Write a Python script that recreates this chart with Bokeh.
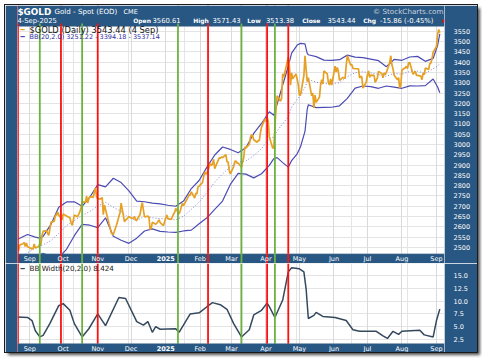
import pandas as pd
from bokeh.plotting import figure
from bokeh.models import (Range1d, FixedTicker, Span, Label, BoxAnnotation, Grid,
                          NumeralTickFormatter)
from bokeh.layouts import column
from bokeh.embed import file_html
from bokeh.resources import INLINE

# ---------------- data ----------------
START = pd.Timestamp("2024-08-21")
HOLIDAYS = ["2024-09-02", "2024-11-28", "2024-12-25", "2025-01-01",
            "2025-01-20", "2025-02-17", "2025-04-18"]

gold_close = [
    # Aug 2024
    2512, 2485, 2512, 2518, 2524, 2504, 2521, 2503,
    # Sep
    2493, 2495, 2517, 2497, 2505, 2516, 2512, 2558, 2578, 2582, 2569, 2559, 2587, 2622,
    2628, 2657, 2657, 2672, 2658, 2634,
    # Oct
    2663, 2659, 2656, 2653, 2644, 2622, 2608, 2630, 2657, 2649, 2662, 2674, 2693, 2721,
    2720, 2749, 2716, 2736, 2747, 2743, 2774, 2788, 2744,
    # Nov
    2736, 2736, 2743, 2659, 2706, 2684, 2618, 2598, 2573, 2565, 2563, 2611, 2631, 2650,
    2669, 2715, 2625, 2633, 2637, 2650,
    # Dec
    2640, 2643, 2650, 2632, 2633, 2660, 2694, 2718, 2681, 2648, 2652, 2646, 2586, 2594,
    2622, 2613, 2617, 2634, 2621, 2606, 2624,
    # Jan 2025
    2658, 2640, 2636, 2648, 2662, 2670, 2689, 2663, 2677, 2697, 2714, 2703, 2743, 2755,
    2754, 2770, 2740, 2763, 2760, 2794, 2798,
    # Feb
    2815, 2842, 2867, 2856, 2861, 2907, 2898, 2905, 2928, 2883, 2935, 2933, 2939, 2936,
    2951, 2915, 2916, 2875, 2857,
    # Mar
    2893, 2918, 2920, 2910, 2910, 2889, 2917, 2934, 2988, 2984, 3001, 3034, 3048, 3044,
    3023, 3011, 3019, 3019, 3057, 3084, 3123,
    # Apr
    3113, 3133, 3113, 3037, 2983, 2982, 3083, 3175, 3237, 3210, 3225, 3343, 3327, 3424,
    3381, 3288, 3348, 3319, 3343, 3317, 3288,
    # May
    3239, 3241, 3334, 3431, 3366, 3306, 3325, 3236, 3250, 3177, 3240, 3205, 3230, 3289,
    3315, 3294, 3357, 3343, 3301, 3289, 3318, 3289,
    # Jun
    3380, 3352, 3374, 3353, 3311, 3326, 3323, 3322, 3385, 3432, 3385, 3388, 3370, 3369,
    3368, 3368, 3323, 3332, 3327, 3274, 3303,
    # Jul
    3338, 3357, 3326, 3337, 3336, 3302, 3313, 3324, 3355, 3344, 3324, 3347, 3339, 3350,
    3397, 3431, 3387, 3368, 3336, 3314, 3325, 3274, 3289,
    # Aug
    3362, 3373, 3380, 3369, 3397, 3398, 3341, 3348, 3356, 3336, 3336, 3332, 3315, 3347,
    3339, 3371, 3365, 3393, 3396, 3416, 3448,
    # Sep
    3476, 3533, 3559, 3543,
]

bb_dates = [
    "2024-08-21", "2024-08-23", "2024-08-30", "2024-09-06", "2024-09-10", "2024-09-13",
    "2024-09-20", "2024-09-27", "2024-10-04", "2024-10-11", "2024-10-18", "2024-10-25",
    "2024-11-01", "2024-11-08", "2024-11-15", "2024-11-22", "2024-11-29", "2024-12-06",
    "2024-12-13", "2024-12-20", "2024-12-27", "2025-01-03", "2025-01-10", "2025-01-17",
    "2025-01-24", "2025-01-31", "2025-02-07", "2025-02-14", "2025-02-21", "2025-02-28",
    "2025-03-07", "2025-03-14", "2025-03-21", "2025-03-28", "2025-04-04", "2025-04-08",
    "2025-04-11", "2025-04-16", "2025-04-21", "2025-04-24", "2025-04-29", "2025-05-02",
    "2025-05-06", "2025-05-08", "2025-05-09", "2025-05-16", "2025-05-23",
    "2025-05-30", "2025-06-06", "2025-06-13", "2025-06-20", "2025-06-27", "2025-07-04",
    "2025-07-11", "2025-07-18", "2025-07-25", "2025-08-01", "2025-08-08", "2025-08-15",
    "2025-08-22", "2025-08-29", "2025-09-02", "2025-09-04",
]
bb_upper = [
    2540, 2545, 2563, 2550, 2545, 2554, 2612, 2695, 2721, 2722, 2700, 2745,
    2805, 2794, 2836, 2815, 2775, 2725, 2722, 2715, 2712, 2705, 2700, 2725,
    2786, 2825, 2890, 2949, 2988, 2976, 2960, 2984, 3054, 3102, 3159, 3142,
    3196, 3289, 3380, 3444, 3483, 3491,
    3489, 3443, 3436, 3427, 3410,
    3409, 3412, 3434, 3424, 3422, 3415,
    3407, 3378, 3413, 3409, 3425, 3428,
    3404, 3418, 3481, 3537.14,
]
bb_middle = [
    2447, 2452, 2474, 2497, 2505, 2513, 2533, 2568, 2606, 2631, 2655, 2675,
    2701, 2719, 2695, 2675, 2645, 2629, 2653, 2644, 2640, 2638, 2634, 2651,
    2685, 2720, 2767, 2817, 2857, 2891, 2913, 2920, 2946, 2980, 3029, 3037,
    3066, 3101, 3135, 3183, 3219, 3240,
    3277, 3307, 3315, 3303, 3295,
    3295, 3300, 3329, 3349, 3353, 3348,
    3340, 3331, 3346, 3341, 3355, 3356,
    3345, 3368, 3380, 3394.18,
]
bb_lower = [
    2365, 2367, 2390, 2445, 2466, 2472, 2457, 2451, 2491, 2557, 2612, 2608,
    2596, 2644, 2554, 2535, 2520, 2545, 2580, 2590, 2578, 2575, 2573, 2580,
    2584, 2615, 2644, 2685, 2725, 2806, 2860, 2856, 2838, 2858, 2899, 2931,
    2936, 2912, 2890, 2922, 2955, 2989,
    3064, 3171, 3193, 3179, 3180,
    3181, 3188, 3224, 3274, 3284, 3281,
    3273, 3284, 3279, 3273, 3285, 3284,
    3286, 3318, 3279, 3251.22,
]

bbw_dates = [
    "2024-08-21", "2024-08-30", "2024-09-03", "2024-09-06", "2024-09-10", "2024-09-13",
    "2024-09-19", "2024-09-27", "2024-10-01", "2024-10-07", "2024-10-11", "2024-10-18",
    "2024-10-24", "2024-11-01", "2024-11-08", "2024-11-20", "2024-11-26", "2024-12-06",
    "2024-12-12", "2024-12-16", "2024-12-20", "2024-12-23", "2024-12-27", "2025-01-10",
    "2025-01-13", "2025-01-23", "2025-01-31", "2025-02-07", "2025-02-12", "2025-02-19",
    "2025-02-25", "2025-03-03", "2025-03-10", "2025-03-17", "2025-03-21", "2025-03-28",
    "2025-04-02", "2025-04-04", "2025-04-09", "2025-04-16", "2025-04-21", "2025-04-24",
    "2025-05-01", "2025-05-05", "2025-05-07", "2025-05-09", "2025-05-14", "2025-05-16",
    "2025-05-22", "2025-06-02", "2025-06-12", "2025-06-18", "2025-06-24", "2025-07-09",
    "2025-07-15", "2025-07-19", "2025-07-24", "2025-07-29", "2025-08-01", "2025-08-17",
    "2025-08-21", "2025-08-29", "2025-09-01", "2025-09-04",
]
bbw_values = [
    6.9, 6.8, 6.2, 4.2, 3.0, 3.3, 5.6, 9.1, 9.5, 8.2, 5.6, 3.0,
    4.6, 7.5, 5.2, 10.7, 10.5, 6.0, 5.3, 6.0, 3.9, 5.0, 4.5, 4.6,
    3.9, 7.5, 7.7, 8.9, 9.7, 9.3, 8.4, 5.6, 3.0, 4.4, 7.3, 8.2,
    9.6, 8.9, 6.8, 10.2, 15.7, 16.5, 16.3, 15.7, 12.4, 6.6, 7.2, 7.8,
    7.0, 6.8, 6.2, 4.4, 4.1, 4.1, 3.2, 2.7, 4.1, 3.5, 4.1, 4.3,
    3.4, 3.0, 6.2, 8.424,
]

month_starts = ["2024-09-01", "2024-10-01", "2024-11-01", "2024-12-01", "2025-01-01",
                "2025-02-01", "2025-03-01", "2025-04-01", "2025-05-01", "2025-06-01",
                "2025-07-01", "2025-08-01", "2025-09-01"]
month_labels = ["Sep", "Oct", "Nov", "Dec", "2025", "Feb", "Mar", "Apr", "May", "Jun",
                "Jul", "Aug", "Sep"]

red_dates = ["2024-08-21", "2024-09-29", "2024-11-01", "2025-02-08", "2025-04-02",
             "2025-04-21"]
green_dates = ["2024-09-10", "2024-10-18", "2025-01-12", "2025-03-10", "2025-04-09"]

price_ticks = list(range(2500, 3551, 50))
bbw_ticks = [2.5, 5.0, 7.5, 10.0, 12.5, 15.0]


def off(d):
    return (pd.Timestamp(d) - START).days


trade_days = [d for d in pd.bdate_range("2024-08-21", "2025-09-04")
              if d.strftime("%Y-%m-%d") not in HOLIDAYS]
gold_x = [off(d) for d in trade_days]
n = min(len(gold_x), len(gold_close))
gold_x, gold_y = gold_x[:n], gold_close[:n]
bb_x = [off(d) for d in bb_dates]
bbw_x = [off(d) for d in bbw_dates]
month_x = [off(d) for d in month_starts]

# ---------------- style ----------------
BLUE = "#285783"
GOLD = "#E6A124"
BBC = "#4B4BB4"
RED = "#FF1010"
GREEN = "#6CB33E"
FONT = "DejaVu Sans"
W = 472
XR = Range1d(0, 383.2)

# main panel: frame spans header (abs y 5..26), plot (26..253) and month band (253..263)
PA_TOP = 3675.1
PLOT_TOP = 3573
PLOT_BOT = 2469.5
PA_BOT = 2422
STUB_TOP = 3587.6   # the signal lines poke ~3px above the plot

pA = figure(width=W, height=258, x_range=XR, y_range=Range1d(PA_BOT, PA_TOP),
            x_axis_location=None, y_axis_location="right",
            output_backend="svg", toolbar_location=None,
            min_border_left=12, min_border_right=33, min_border_top=0, min_border_bottom=0,
            background_fill_color="white", border_fill_color=BLUE,
            outline_line_color=None)
pA.yaxis.ticker = FixedTicker(ticks=price_ticks)
pA.yaxis.axis_line_color = None
pA.yaxis.major_tick_line_color = None
pA.yaxis.minor_tick_line_color = None
pA.yaxis.major_label_text_color = "white"
pA.yaxis.major_label_text_font = FONT
pA.yaxis.major_label_text_font_size = "6.5px"
pA.yaxis.major_label_standoff = 3
pA.ygrid.grid_line_color = "#E4E4E4"
pA.add_layout(Grid(dimension=0, ticker=FixedTicker(ticks=month_x), grid_line_color="#DADADA"))

pA.line(bb_x, bb_middle, color="#8080D8", line_width=1, line_dash="1 2")
pA.line(bb_x, bb_upper, color=BBC, line_width=1.2)
pA.line(bb_x, bb_lower, color=BBC, line_width=1.2)
pA.line(gold_x, gold_y, color=GOLD, line_width=1.7)

# month band between the panels
pA.add_layout(BoxAnnotation(bottom=PA_BOT, top=PLOT_BOT, fill_color=BLUE, fill_alpha=1,
                            line_color=None))
for d in red_dates:
    pA.add_layout(Span(location=max(off(d), 0.4), dimension="height", line_color=RED,
                       line_width=1.8))
for d in green_dates:
    pA.add_layout(Span(location=off(d), dimension="height", line_color=GREEN,
                       line_width=1.8))
# header band covers the top part (above the spans)
pA.add_layout(BoxAnnotation(bottom=PLOT_TOP, top=PA_TOP, fill_color=BLUE, fill_alpha=1,
                            line_color=None, level="overlay"))
for dates, col in ((red_dates, RED), (green_dates, GREEN)):
    for d in dates:
        xc = max(off(d), 0.4)
        pA.add_layout(BoxAnnotation(left=xc - 0.8, right=xc + 0.8, bottom=PLOT_TOP,
                                    top=STUB_TOP, fill_color=col, fill_alpha=1,
                                    line_color=None, level="overlay"))
pA.add_layout(BoxAnnotation(bottom=PLOT_BOT, top=PLOT_TOP, fill_alpha=0,
                            line_color="#9AA7B4", line_width=1, level="overlay"))

for mx, ml in zip(month_x, month_labels):
    pA.add_layout(Label(x=mx, y=5, x_units="data", y_units="screen", text=ml,
                        text_align="center", text_baseline="middle", text_color="white",
                        text_font=FONT, text_font_size="6.5px", level="overlay",
                        text_font_style="bold" if ml == "2025" else "normal"))


def lab(p, x, y, t, size="7px", color="white", style="normal", align="left"):
    p.add_layout(Label(x=x, y=y, x_units="screen", y_units="screen", text=t,
                       text_align=align, text_baseline="middle", text_color=color,
                       text_font=FONT, text_font_size=size, text_font_style=style,
                       level="overlay"))


# header (screen coords relative to main frame bottom-left, abs (17, 263))
lab(pA, 0, 252, "$GOLD", size="8.8px", style="bold")
lab(pA, 37, 252, "Gold - Spot (EOD)", size="7.1px")
lab(pA, 106, 252, "CME", size="6.5px")
lab(pA, 426, 252, "\u00a9 StockCharts.com", size="7.2px", color="#C9D3DE", align="right")
lab(pA, 0, 243, "4-Sep-2025", size="6.8px")
hdr = [(115.7, "Open", "bold"), (135, "3560.61", "normal"), (175.7, "High", "bold"),
       (195, "3571.43", "normal"), (229.7, "Low", "bold"), (248.5, "3513.38", "normal"),
       (284.7, "Close", "bold"), (310, "3543.44", "normal"), (345.7, "Chg", "bold"),
       (362.5, "-15.86 (-0.45%)", "normal")]
for x, t, s in hdr:
    lab(pA, x, 243, t, size="6px" if s == "bold" else "6.8px", style=s)
lab(pA, 424, 243, "\u25bc", size="5px", color="#E02020")

# legend
lab(pA, 3, 234, "\u2501", size="7px", color=GOLD)
lab(pA, 12, 234, "$GOLD (Daily) 3543.44 (4 Sep)", size="8.3px", color="#111111")
lab(pA, 3, 227, "\u2501", size="7px", color=BBC)
lab(pA, 12, 227, "BB(20,2.0) 3251.22 - 3394.18 - 3537.14", size="6.5px", color="#2E2EA0")

# ---------------- BB width panel: frame 263..343 plus label band 343..352 ----------------
BW_BOT = -0.04
BW_PLOT_BOT = 1.72
BW_TOP = 17.34
pB = figure(width=W, height=89, x_range=XR, y_range=Range1d(BW_BOT, BW_TOP),
            x_axis_location=None, y_axis_location="right",
            output_backend="svg", toolbar_location=None,
            min_border_left=12, min_border_right=33, min_border_top=0, min_border_bottom=0,
            background_fill_color="white", border_fill_color=BLUE,
            outline_line_color=None)
pB.yaxis.ticker = FixedTicker(ticks=bbw_ticks)
pB.yaxis.formatter = NumeralTickFormatter(format="0.0")
pB.yaxis.axis_line_color = None
pB.yaxis.major_tick_line_color = None
pB.yaxis.minor_tick_line_color = None
pB.yaxis.major_label_text_color = "white"
pB.yaxis.major_label_text_font = FONT
pB.yaxis.major_label_text_font_size = "6.5px"
pB.yaxis.major_label_standoff = 3
pB.ygrid.grid_line_color = "#E4E4E4"
pB.add_layout(Grid(dimension=0, ticker=FixedTicker(ticks=month_x), grid_line_color="#DADADA"))

pB.line(bbw_x, bbw_values, color="#34495E", line_width=1.5)
for d in red_dates:
    pB.add_layout(Span(location=max(off(d), 0.4), dimension="height", line_color=RED,
                       line_width=1.8))
for d in green_dates:
    pB.add_layout(Span(location=off(d), dimension="height", line_color=GREEN,
                       line_width=1.8))
pB.add_layout(BoxAnnotation(bottom=BW_BOT, top=BW_PLOT_BOT, fill_color=BLUE, fill_alpha=1,
                            line_color=None, level="overlay"))
pB.add_layout(BoxAnnotation(bottom=BW_PLOT_BOT, top=BW_TOP, fill_alpha=0,
                            line_color="#9AA7B4", line_width=1, level="overlay"))
for mx, ml in zip(month_x, month_labels):
    pB.add_layout(Label(x=mx, y=4, x_units="data", y_units="screen", text=ml,
                        text_align="center", text_baseline="middle", text_color="white",
                        text_font=FONT, text_font_size="6.5px", level="overlay",
                        text_font_style="bold" if ml == "2025" else "normal"))
# legend (screen coords relative to frame bottom-left, abs (17, 352))
lab(pB, 3, 84, "\u2501", size="7px", color="#34495E")
lab(pB, 12, 84, "BB Width(20,2.0) 8.424", size="7.2px", color="#222222")

layout = column(pA, pB, spacing=0, margin=(5, 5, 5, 5),
                styles={"box-shadow": "3px 3px 3px rgba(0,0,0,0.7)",
                        "outline": "1px solid #1a1a1a"})

open("out.html", "w").write(file_html(layout, INLINE))
